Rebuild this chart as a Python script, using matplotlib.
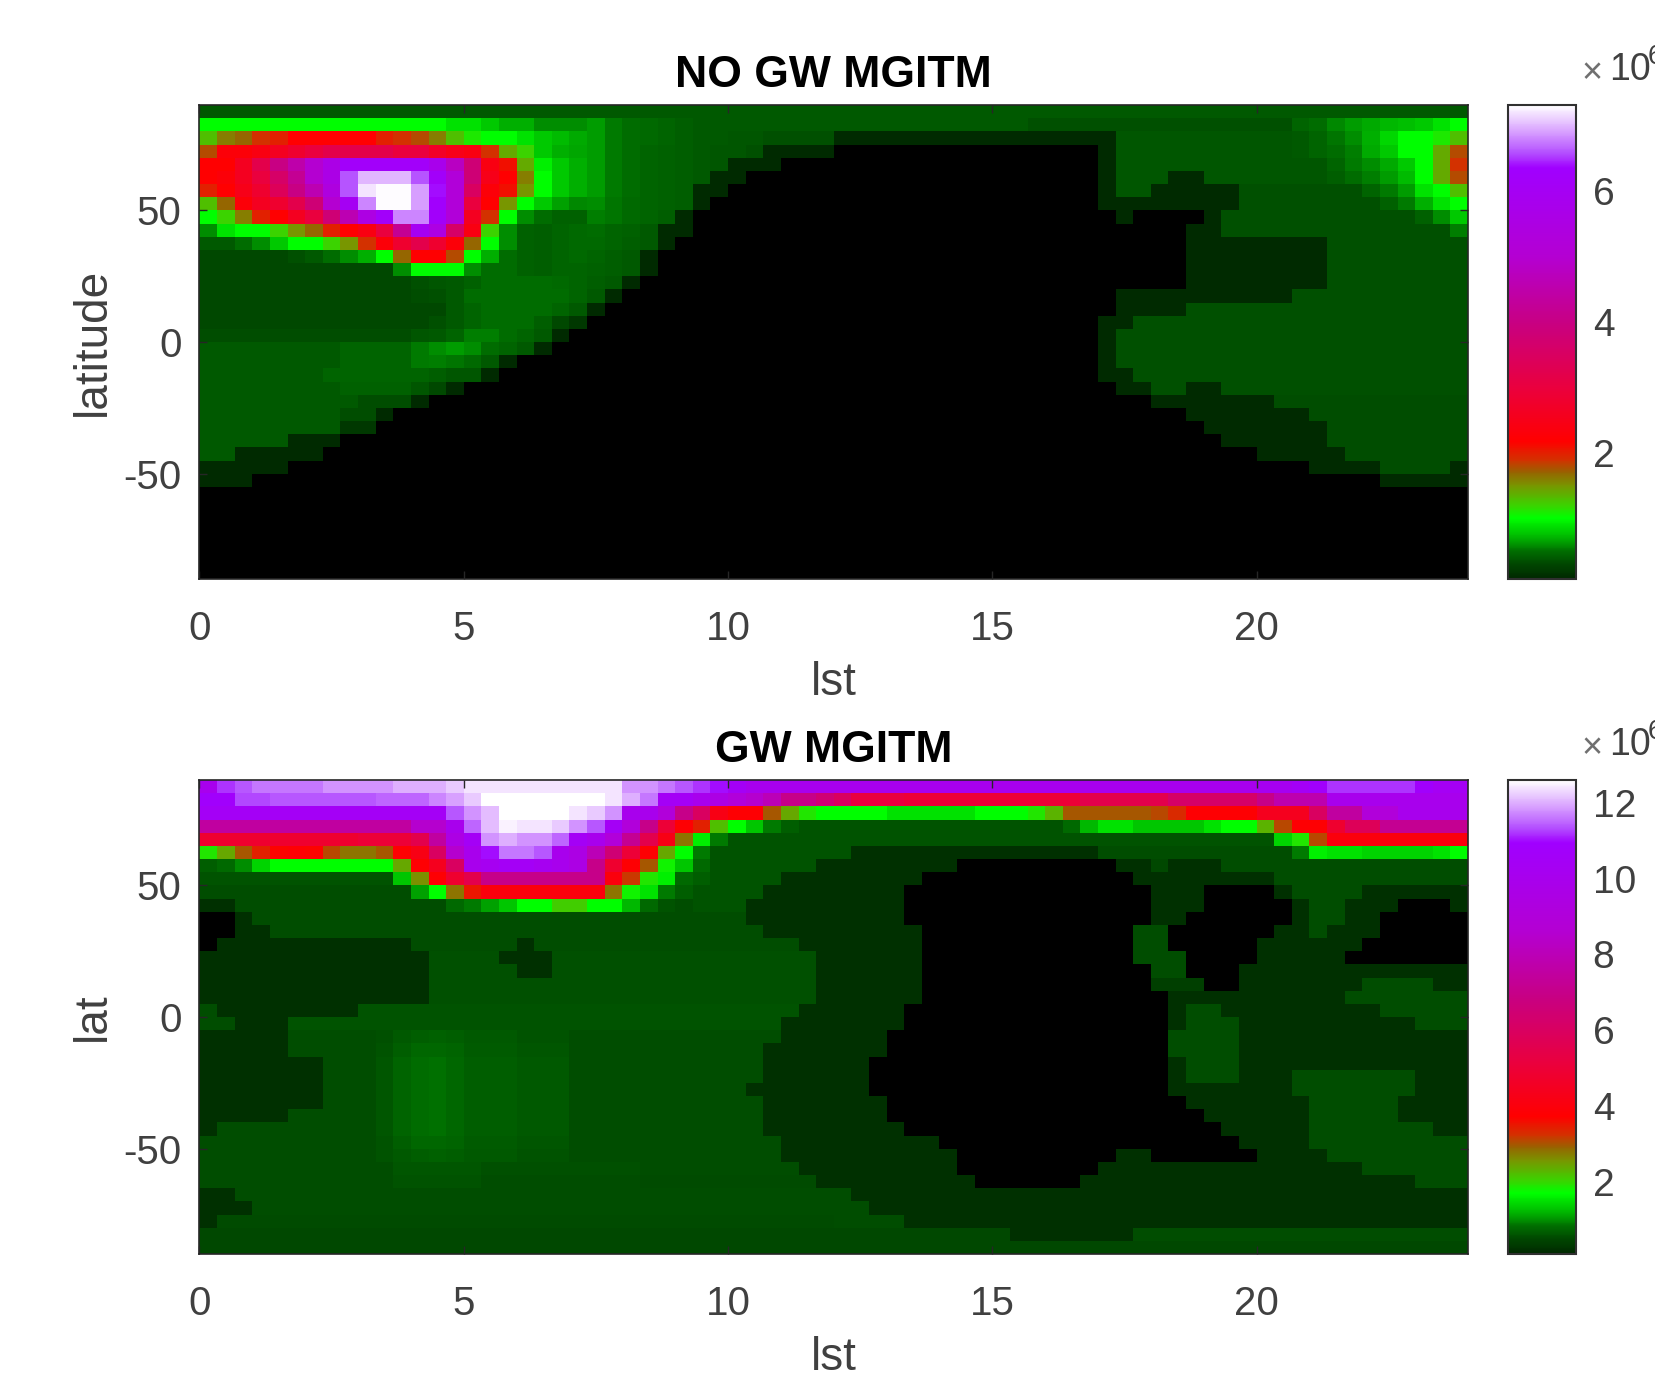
import numpy as np
import matplotlib
matplotlib.use("Agg")
import matplotlib.pyplot as plt
from matplotlib.colors import LinearSegmentedColormap, Normalize

plt.rcParams['font.family'] = ['Liberation Sans', 'DejaVu Sans']

# cell values in units of 1e5, read by eye, top row (90 lat) first, 0 is below the colour range
no_gw = [
    [4]*72,
    [10]*14 + [9,9,8,7,7,6,6,6] + [6.4,5.4,5,4.8,4.5,4.2] + [4]*19 + [3.6]*15 + [4.5,5,5.8,6.4,6.8,7.2,7.5,8,9,10],
    [13,16,17,19,20] + [22]*5 + [20,19,18,16,13,11,10,10,9,8,7.4,6.8] + [6.4,5.4,5,4.8,4.5,4.2,4,4,3.8,3.8,3.6,3.6,3.6,3.6] + [1]*16 + [3.8]*10 + [4,4.6,5.2,6,7,8.5,10,10,11,13],
    [18,23,23,24,26,28,30,32,32,32,32,30,30,27,25,24] + [19,14,12,8,7,6.6] + [6.4,5.4,5,4.6,4.4,4.2,4,3.8,3.8,3.6] + [1]*4 + [0]*15 + [1] + [3.8]*10 + [4,4.5,5,5.6,6.8,8,10,10,14,18],
    [22,22,26,32,40,45,50,56,62,62,62,62,62,58,48,38,24,21,14,9.5,8,7] + [6.4,5.4,5,4.6,4.4,4.2,4,3.8] + [1]*3 + [0]*18 + [1] + [3.8]*12 + [4.5,5.4,6,6.8,8,10,14,19],
    [22,23,26,30,36,42,50,56,66,70,70,70,66,62,52,38,25,22,16,10,8,7] + [6.4,5.4,5,4.6,4.4,4.2,4] + [1,1] + [0]*20 + [1] + [3.8]*3 + [1,1] + [3.8]*7 + [4.2,5,5.6,6.4,7.4,10,14,18],
    [20,22,25,28,34,40,46,54,66,72,73,73,69,64,52,35,23,21,15,10,8,7] + [6.4,5.4,5,4.6,4.4,4.2] + [1,1] + [0]*21 + [1] + [3.8,3.8] + [1]*5 + [3.6]*7 + [4.6,5.4,6.4,9,10,13],
    [13,17,23,26,28,32,38,50,60,68,73,73,69,63,52,30,22,15,10,8,6.5,5.8] + [6,5.2,4.8,4.6,4.4,4.2] + [1] + [0]*22 + [1]*8 + [3.6]*8 + [4.4,5.4,7,9,10],
    [10,12,16,20,22,26,30,38,46,55,62,68,68,62,52,26,19,10,6,5,4.4,4.4] + [5.6,5.2,4.8,4.5,4.2] + [1] + [0]*24 + [1] + [0]*4 + [1] + [3.6]*11 + [4.4,6,8],
    [6,9,10,10,12,15,17,20,22,24,30,42,60,55,36,24,12,6,4.4,4.2,4.5,4.8] + [5,4.6,4.4,4] + [1,1] + [0]*28 + [1,1] + [3.6]*13 + [5.5],
    [4,4,5,6,8,10,10,12,15,19,23,28,32,28,23,17,10,6,4.4,4.2,4.5,4.8] + [4.8,4.5,4.3,4] + [1] + [0]*29 + [1]*8 + [3.5]*8,
    [3.2]*5 + [3.6,4,5,6,7,10,17,22,22,18,10,7,5,4.4,4.2,4.5,4.8] + [4.6,4.3,4] + [1] + [0]*30 + [1]*8 + [3.5]*8,
    [3.2]*11 + [6,10,10,10,6,5,5,4.4,4.2,4.5,4.6] + [4.4,4.2,4] + [1] + [0]*30 + [1]*8 + [3.5]*8,
    [3.2]*12 + [3.6,3.8,4,4.4,5,5,5,5,4.8,4.6] + [4.2,4] + [1] + [0]*31 + [1]*8 + [3.5]*8,
    [3.2]*12 + [3.4,3.6,4,5,5,5,5,5,5,4.6] + [4] + [1] + [0]*28 + [1]*10 + [3.5]*10,
    [3.2]*14 + [4,4.6,5,5,5,5,4.6,4] + [1] + [0]*29 + [1]*4 + [3.5]*16,
    [3.2]*13 + [3.6,4,4.5,5,5,5,4.2,3.2,2] + [0]*29 + [1,1] + [3.5]*19,
    [3.4]*12 + [3.8,4,4.5,5.5,5.5,5,4.5,4,1] + [0]*30 + [1] + [3.5]*20,
    [4]*8 + [4.5]*4 + [5.4,6,6.4,6,5,4.5,4,1] + [0]*31 + [1] + [3.5]*20,
    [4]*8 + [4.5]*4 + [5.4,5.6,5.2,4.8,4,1] + [0]*33 + [1] + [3.5]*20,
    [4]*7 + [4.6]*6 + [4.2,3.8,3.8,1] + [0]*34 + [1,1] + [3.5]*19,
    [4]*8 + [4.4]*4 + [3.8,3.2,1] + [0]*37 + [1,1] + [3.5,3.5] + [1,1] + [3.5]*14,
    [4]*9 + [3.4,3.4,3.4,1] + [0]*41 + [1]*7 + [3.4]*11,
    [4]*8 + [3.4,3.4,1] + [0]*45 + [1]*7 + [3.4]*9,
    [4]*8 + [2,2] + [0]*47 + [1]*7 + [3.4]*8,
    [4]*5 + [1]*3 + [0]*50 + [1]*6 + [3.4]*8,
    [4,4] + [1]*5 + [0]*53 + [1]*5 + [3.4]*7,
    [1]*5 + [0]*58 + [1]*4 + [3.4]*4 + [1],
    [1]*3 + [0]*64 + [1]*5,
    [0]*72, [0]*72, [0]*72, [0]*72, [0]*72, [0]*72, [0]*72,
]

gw = [
    [100,112,114,116,116,116,116,118,118,118,118,120,120,120,122] + [124]*9 + [118,118,116,114] + [112,110,105] + [100]*29 + [102,102,105,108] + [112]*5 + [108,104,104],
    [108,108,113,113] + [114]*6 + [115,115,115,117,119,122] + [126]*7 + [124,120,116,105,105] + [100,95,90,85,80,70,70,65,60] + [52]*3 + [50]*10 + [55]*5 + [62]*5 + [70] + [78]*3 + [100]*8,
    [105]*14 + [114,118,121] + [126]*4 + [124,122,118,100,100,90,70] + [60,42,38,38,30,24,19] + [17]*4 + [15]*5 + [17]*3 + [19,23,30] + [30]*4 + [31,33] + [38]*4 + [44]*3 + [60,75,75,90,90] + [100]*4,
    [75]*12 + [85,85,100,115,121,125,124,124,122,118,114,105,90,70,50,38] + [34,22,17,13,9,7] + [6]*15 + [8] + [12,15,15,13,13,13,13,15,17,17,23,31,38,38] + [48,58,58] + [72]*5,
    [48]*9 + [50,50,50,55,75,95,105,118,120,118,118,115,105,100,90,72,55,42,28] + [16,9] + [6]*31 + [14,19,31] + [40]*8,
    [19,24,30,34,37,38,37,31,28,28,30,38,42,60,85,100,110,116,116,114,100,95,80,65,50,38,24,17] + [9] + [6]*8 + [2]*14 + [5.4]*11 + [9,16] + [15,15,14,14,14,14,15,17],
    [7,8,10,14] + [17]*7 + [24,38,44,60] + [100,102,105,105,102,100] + [95,70,48,38,30,18,13] + [8] + [6]*6 + [2]*8 + [0]*9 + [2,2,5] + [2,2,2] + [5.4]*14,
    [6]*11 + [13,26,38,48,55] + [70]*7 + [40,32,19,16,8] + [7] + [6]*4 + [2]*8 + [0]*12 + [2]*8 + [5.4]*11,
    [5.4]*12 + [11,17,28,35] + [40]*7 + [28,18,15,9,7] + [6]*4 + [2]*8 + [0]*14 + [2]*3 + [0]*4 + [2] + [5.4]*4 + [2]*6,
    [2,2] + [5.4]*12 + [8,9,11,13,17,17,21,21,17,17,12,8,6,5.4] + [6]*3 + [2]*9 + [0]*14 + [2]*3 + [0]*5 + [2] + [5.4,5.4] + [2]*3 + [0]*3 + [2],
    [0,0,2] + [5.4]*25 + [5.6]*3 + [2]*9 + [0]*14 + [2,2] + [0]*6 + [2] + [5.4,5.4] + [2,2] + [0]*5,
    [0,0,2,2] + [5.4]*24 + [5.6]*4 + [2]*9 + [0]*12 + [5.4,5.4] + [0]*6 + [2,2] + [5.4] + [2]*3 + [0]*5,
    [0] + [2]*11 + [5.6]*6 + [2] + [5.6]*15 + [2]*7 + [0]*12 + [5.4,5.4] + [0]*5 + [2]*6 + [0]*6,
    [2]*13 + [5.8]*4 + [2]*3 + [5.8]*15 + [2]*6 + [0]*12 + [5.4]*3 + [0]*4 + [2]*5 + [0]*7,
    [2]*13 + [5.8]*5 + [2,2] + [5.8]*15 + [2]*6 + [0]*13 + [5.4,5.4] + [0]*3 + [2]*13,
    [2]*13 + [5.8]*22 + [2]*6 + [0]*13 + [4]*3 + [0,0] + [2]*7 + [5.4]*4 + [2,2],
    [2]*13 + [5.8]*22 + [2]*6 + [0]*14 + [2]*10 + [5.4]*7,
    [5.4] + [2]*8 + [6]*25 + [2]*6 + [0]*15 + [2] + [5.4,5.4] + [2]*9 + [5.4]*5,
    [5.4,5.4] + [2]*3 + [6]*28 + [2]*7 + [0]*15 + [2] + [5.4]*3 + [2]*10 + [5.4]*3,
    [2]*5 + [5.4]*5 + [5.8,6.6,7,7.2,7,6.6,6.6,6.6,6,6,6] + [5.4]*12 + [2]*6 + [0]*16 + [5.4]*4 + [2]*13,
    [2]*5 + [5.6]*5 + [6,7,7.6,7.8,7.4,6.8,6.8,6.8,6.2,6.2,6.2] + [5.6]*5 + [5.4]*6 + [2]*7 + [0]*16 + [5.4]*4 + [2]*13,
    [2]*7 + [5.6]*3 + [6.2,7.4,8.2,8.4,7.8,7,7,7,6.4,6.4,6.4] + [5.6]*5 + [5.4]*6 + [2]*6 + [0]*17 + [2] + [5.4]*3 + [2]*13,
    [2]*7 + [5.6]*3 + [6.2,7.4,8.2,8.4,7.8,7,7,7,6.4,6.4,6.4] + [5.6]*5 + [5.4]*6 + [2]*6 + [0]*17 + [2] + [5.4]*3 + [2]*3 + [5.4]*7 + [2]*3,
    [2]*7 + [5.6]*3 + [6.2,7.4,8.2,8.4,7.8,7,7,7,6.4,6.4,6.4] + [5.6]*5 + [5.4]*5 + [2]*7 + [0]*17 + [2]*7 + [5.4]*7 + [2]*3,
    [2]*7 + [5.6]*3 + [6.2,7.4,8.2,8.4,7.8,7,7,7,6.4,6.4,6.4] + [5.6]*5 + [5.4]*6 + [2]*7 + [0]*17 + [2]*7 + [5.4]*5 + [2]*4,
    [2]*5 + [5.6]*5 + [6.2,7.4,8.2,8.4,7.8,7,7,7,6.4,6.4,6.4] + [5.6]*5 + [5.4]*6 + [2]*7 + [0]*18 + [2]*6 + [5.4]*5 + [2]*4,
    [2] + [5.6]*9 + [6.2,7.4,8.2,8.4,7.8,7,7,7,6.4,6.4,6.4] + [5.6]*5 + [5.4]*6 + [2]*8 + [0]*18 + [2]*5 + [5.4]*7 + [2,2],
    [5.6]*10 + [6,7,7.6,7.8,7.4,6.8,6.8,6.8,6.2,6.2,6.2] + [5.6]*5 + [5.4]*7 + [2]*9 + [0]*17 + [2]*4 + [5.4]*9,
    [5.6]*10 + [6,6.6,7,7.2,7,6.6,6.6,6.6,6,6,6] + [5.4]*12 + [2]*10 + [0]*9 + [2,2] + [0]*6 + [2]*4 + [5.4]*8,
    [5.4]*11 + [6.2]*5 + [5.8]*9 + [5.4]*9 + [2]*9 + [0]*8 + [2]*15 + [5.4]*6,
    [5.4]*11 + [6]*5 + [5.6]*9 + [5.2]*10 + [2]*9 + [0]*6 + [2]*19 + [5.4]*3,
    [2,2] + [5.4]*34 + [5.4] + [2]*35,
    [2,2,2] + [5.4]*33 + [5.4,5.4] + [2]*34,
    [2] + [5.2]*35 + [5.4]*4 + [2]*32,
    [5]*46 + [2]*7 + [5.4]*19,
    [5]*72,
]

titles = ["NO GW MGITM", "GW MGITM"]
ylabels = ["latitude", "lat"]
lat_ticks = [-50, 0, 50]
lat_ticklabels = ["-50", "0", "50"]
lst_ticks = [0, 5, 10, 15, 20]
cbar_ticks = [[2, 4, 6], [2, 4, 6, 8, 10, 12]]
clims = [(0.08, 7.32), (0.1, 12.6)]

cmap_pos = [0, .03, .058, .086, .128, .155, .196, .224, .25, .29, .40, .54, .68, .868, .90, .95, 1]
cmap_rgb = [(0,40,0), (0,70,0), (0,110,0), (0,180,0), (0,255,0), (60,210,0), (120,150,0), (150,100,0),
            (210,50,0), (255,0,0), (235,0,60), (200,0,130), (180,0,210), (160,0,255), (180,80,255),
            (220,170,255), (255,255,255)]

W, H = 1656, 1373
gray = "#404040"

cmap = LinearSegmentedColormap.from_list(
    "aurora", [(p, tuple(c/255 for c in rgb)) for p, rgb in zip(cmap_pos, cmap_rgb)], N=512)
cmap.set_under("k")


def box(x0, y0, x1, y1):
    return [x0/W, 1 - y1/H, (x1 - x0)/W, (y1 - y0)/H]


fig = plt.figure(figsize=(W/100, H/100), dpi=100)

lst_edges = np.linspace(0, 24, 73)
lat_edges = np.linspace(90, -90, 37)

tops = [105, 780]
for i, data in enumerate([no_gw, gw]):
    top = tops[i]
    bottom = top + 474
    ax = fig.add_axes(box(199.5, top, 1468, bottom))
    vals = np.array(data, dtype=float)/10
    norm = Normalize(*clims[i])
    m = ax.pcolormesh(lst_edges, lat_edges, vals, cmap=cmap, norm=norm, shading="flat")
    ax.set_xlim(0, 24)
    ax.set_ylim(-90, 90)
    ax.set_xticks(lst_ticks)
    ax.set_yticks(lat_ticks)
    ax.set_yticklabels(lat_ticklabels)
    ax.tick_params(direction="in", length=6, width=1, top=True, right=True,
                   labelsize=29, labelcolor=gray, color="#262626")
    ax.tick_params(axis="x", pad=22)
    ax.tick_params(axis="y", pad=13)
    ax.set_xlabel("lst", fontsize=33, color=gray, va="center")
    ax.xaxis.set_label_coords(0.5, -0.219)
    ax.set_ylabel(ylabels[i], fontsize=33, color=gray, va="center")
    ax.yaxis.set_label_coords(-0.084, 0.5)
    ax.set_title(titles[i], fontsize=32, fontweight="bold", color="k", pad=13)
    for s in ax.spines.values():
        s.set_linewidth(1.2)
        s.set_color("#262626")

    cax = fig.add_axes(box(1508, top, 1576, bottom))
    cb = fig.colorbar(m, cax=cax, ticks=cbar_ticks[i])
    cb.ax.set_yticklabels([str(t) for t in cbar_ticks[i]])
    cb.ax.tick_params(length=0, labelsize=28, labelcolor=gray, pad=12)
    cb.outline.set_linewidth(1.5)
    cb.outline.set_edgecolor("#303030")

    # exponent label, runs off the right edge as in the source
    fig.text(1592/W, 1 - (top - 35 + 4)/H, "×", fontsize=26, color="#707070", ha="center", va="center")
    fig.text(1609/W, 1 - (top - 39 + 4)/H, "10", fontsize=27, color=gray, ha="left", va="center")
    fig.text(1648/W, 1 - (top - 52 + 4)/H, "6", fontsize=20, color=gray, ha="left", va="center")

fig.savefig("out.png", dpi=100)
